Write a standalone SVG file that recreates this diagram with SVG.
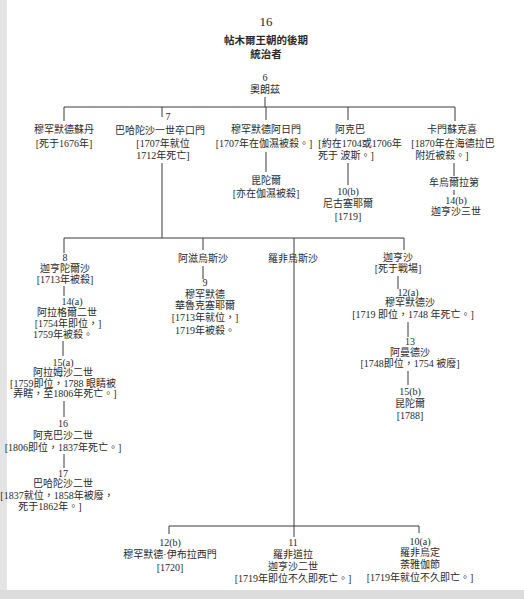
<svg xmlns="http://www.w3.org/2000/svg" width="524" height="599" viewBox="0 0 524 599">
<style>
text{font-family:"Liberation Serif","Noto Sans CJK TC",serif;font-size:10px;fill:#2a2a2a;text-anchor:middle}
.t{font-size:10.5px;font-weight:bold}
.n{font-size:13px}
.c line,.c polyline{stroke:#3a3a3a;stroke-width:1;fill:none}
</style>
<rect width="524" height="599" fill="#fff"/>
<rect x="0" y="0" width="7" height="599" fill="#e4e4e4"/>
<rect x="0" y="590" width="524" height="9" fill="#dcdcdc"/>
<g id="title">
<text class="n" x="266" y="26">16</text>
<text class="t" x="266" y="44">帖木爾王朝的後期</text>
<text class="t" x="266" y="58">統治者</text>
</g>
<g class="c" id="connectors">
<line x1="265" y1="97" x2="265" y2="107"/>
<line x1="64" y1="107" x2="455" y2="107"/>
<line x1="64" y1="107" x2="64" y2="121"/>
<line x1="162" y1="107" x2="162" y2="117"/>
<line x1="266" y1="107" x2="266" y2="120"/>
<line x1="348" y1="107" x2="348" y2="120"/>
<line x1="455" y1="107" x2="455" y2="121"/>
<line x1="162" y1="163" x2="162" y2="238"/>
<line x1="266" y1="152" x2="266" y2="172"/>
<line x1="348" y1="163" x2="348" y2="185"/>
<line x1="454" y1="163" x2="454" y2="176"/>
<line x1="454" y1="190" x2="454" y2="195"/>
<line x1="64" y1="238" x2="404" y2="238"/>
<line x1="64" y1="238" x2="64" y2="253"/>
<line x1="203" y1="238" x2="203" y2="250"/>
<line x1="294" y1="238" x2="294" y2="537"/>
<line x1="404" y1="238" x2="404" y2="250"/>
<line x1="64" y1="286" x2="64" y2="296"/>
<line x1="63" y1="341" x2="63" y2="356"/>
<line x1="64" y1="401" x2="64" y2="417"/>
<line x1="64" y1="454" x2="64" y2="468"/>
<line x1="203" y1="266" x2="203" y2="279"/>
<line x1="398" y1="276" x2="398" y2="289"/>
<line x1="408" y1="322" x2="408" y2="337"/>
<line x1="408" y1="371" x2="408" y2="385"/>
<line x1="169" y1="526" x2="419" y2="526"/>
<line x1="169" y1="526" x2="169" y2="534"/>
<line x1="419" y1="526" x2="419" y2="533"/>
</g>
<g id="n6"><text x="265" y="81">6</text><text x="265" y="93">奧朗茲</text></g>
<g id="n-muhammad-sultan"><text x="64" y="133">穆罕默德蘇丹</text><text x="64" y="147">[死于1676年]</text></g>
<g id="n7"><text x="168" y="120">7</text><text x="160" y="134">巴哈陀沙一世卒口門</text><text x="163" y="147">[1707年就位</text><text x="163" y="159">1712年死亡]</text></g>
<g id="n-azam"><text x="266" y="133">穆罕默德阿日門</text><text x="264" y="147">[1707年在伽濕被殺。]</text></g>
<g id="n-bidar"><text x="266" y="184">毘陀爾</text><text x="266" y="197">[亦在伽濕被殺]</text></g>
<g id="n-akbar"><text x="350" y="133">阿克巴</text><text x="360" y="147">[約在1704或1706年</text><text x="346" y="159">死于 波斯。]</text></g>
<g id="n10b"><text x="348" y="195">10(b)</text><text x="348" y="207">尼古塞耶爾</text><text x="348" y="220">[1719]</text></g>
<g id="n-kam"><text x="452" y="133">卡門蘇克喜</text><text x="453" y="147">[1870年在海德拉巴</text><text x="442" y="159">附近被殺。]</text></g>
<g id="n-muizz"><text x="454" y="186">牟烏爾拉第</text></g>
<g id="n14b"><text x="456" y="204">14(b)</text><text x="456" y="215">迦亨沙三世</text></g>
<g id="n8"><text x="65" y="261">8</text><text x="65" y="272">迦亨陀爾沙</text><text x="65" y="283">[1713年被殺]</text></g>
<g id="n14a"><text x="72" y="305">14(a)</text><text x="67" y="316">阿拉格爾二世</text><text x="68" y="327">[1754年即位，]</text><text x="63" y="338">1759年被殺。</text></g>
<g id="n15a"><text x="63" y="366">15(a)</text><text x="63" y="376">阿拉姆沙二世</text><text x="63" y="387">[1759即位，1788 眼睛被</text><text x="65" y="397">弄瞎，至1806年死亡。]</text></g>
<g id="n16"><text x="63" y="427">16</text><text x="63" y="439">阿克巴沙二世</text><text x="63" y="451">[1806即位，1837年死亡。]</text></g>
<g id="n17"><text x="63" y="477">17</text><text x="63" y="487">巴哈陀沙二世</text><text x="57" y="499">[1837就位，1858年被廢，</text><text x="50" y="510">死于1862年。]</text></g>
<g id="n-azim"><text x="203" y="262">阿滋烏斯沙</text></g>
<g id="n9"><text x="205" y="286">9</text><text x="205" y="298">穆罕默德</text><text x="205" y="309">華魯克塞耶爾</text><text x="205" y="321">[1713年就位，]</text><text x="205" y="334">1719年被殺。</text></g>
<g id="n-rafi"><text x="293" y="262">羅非烏斯沙</text></g>
<g id="n-jahan"><text x="398" y="261">迦亨沙</text><text x="398" y="272">[死于戰場]</text></g>
<g id="n12a"><text x="408" y="296">12(a)</text><text x="410" y="306">穆罕默德沙</text><text x="413" y="318">[1719 即位，1748 年死亡。]</text></g>
<g id="n13"><text x="410" y="345">13</text><text x="410" y="356">阿曼德沙</text><text x="410" y="367">[1748即位，1754 被廢]</text></g>
<g id="n15b"><text x="410" y="395">15(b)</text><text x="410" y="407">昆陀爾</text><text x="410" y="419">[1788]</text></g>
<g id="n12b"><text x="170" y="546">12(b)</text><text x="170" y="558">穆罕默德·伊布拉西門</text><text x="170" y="571">[1720]</text></g>
<g id="n11"><text x="293" y="546">11</text><text x="293" y="558">羅非道拉</text><text x="293" y="570">迦亨沙二世</text><text x="293" y="582">[1719年即位不久即死亡。]</text></g>
<g id="n10a"><text x="420" y="545">10(a)</text><text x="420" y="556">羅非烏定</text><text x="420" y="568">荼雅伽節</text><text x="420" y="581">[1719年就位不久即亡。]</text></g>
</svg>
